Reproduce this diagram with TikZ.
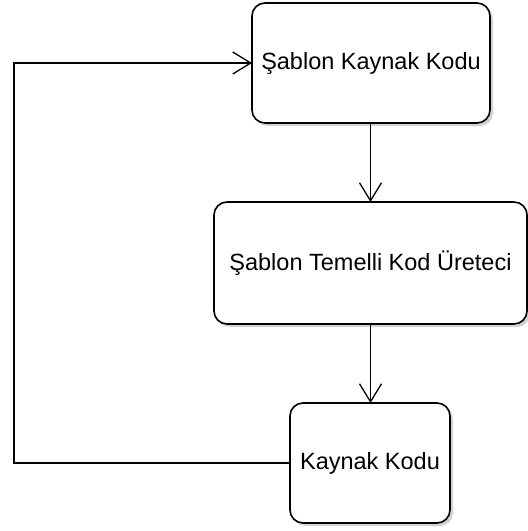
\documentclass[tikz,border=0pt]{standalone}
\usepackage{fontspec}
\setmainfont{Liberation Sans}
\usetikzlibrary{arrows.meta,shadows}
\begin{document}
\begin{tikzpicture}[x=1pt,y=-1pt,
  box/.style={draw=black, line width=1.6pt, rounded corners=13pt, fill=white,
    inner sep=0pt, outer sep=0pt, align=center,
    font=\fontsize{23.5}{28}\selectfont,
    drop shadow={shadow xshift=3pt, shadow yshift=-3pt, fill=black!22, opacity=0.8}},
  conn/.style={draw=black, line width=1.6pt},
  arr/.style={conn, -{Straight Barb[length=18pt, width=22pt, line width=1.3pt]}}]
\useasboundingbox (0,0) rectangle (528,531);
\node[box, minimum width=238pt, minimum height=120pt] (s) at (371,63) {Şablon Kaynak Kodu};
\node[box, minimum width=313pt, minimum height=122pt] (t) at (370.5,263) {Şablon Temelli Kod Üreteci};
\node[box, minimum width=160pt, minimum height=120pt] (k) at (370,463) {Kaynak Kodu};
\coordinate (c1) at (14,463);
\coordinate (c2) at (14,63);
\draw[arr] (s.south -| t.north) -- (t.north);
\draw[arr] (t.south) -- (t.south |- k.north);
\draw[arr] (k.west) -- (c1) -- (c2) -- (s.west);
\end{tikzpicture}
\end{document}
